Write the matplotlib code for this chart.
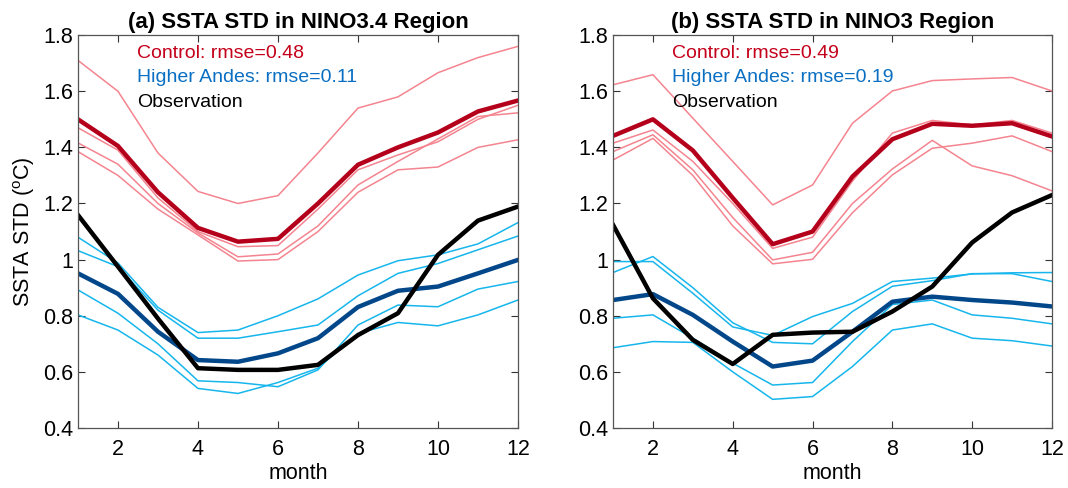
import numpy as np
import matplotlib
matplotlib.use("Agg")
import matplotlib.pyplot as plt

plt.rcParams['font.family'] = ['Liberation Sans', 'DejaVu Sans']
plt.rcParams['mathtext.fontset'] = 'custom'
plt.rcParams['mathtext.rm'] = 'Liberation Sans'

months = np.arange(1, 13)

# NINO3.4 region
ctl_mean_34 = [1.50, 1.405, 1.24, 1.113, 1.064, 1.074, 1.20, 1.338, 1.40, 1.453, 1.528, 1.567]
ctl_members_34 = [
    [1.71, 1.60, 1.38, 1.243, 1.20, 1.228, 1.38, 1.54, 1.58, 1.666, 1.72, 1.76],
    [1.47, 1.39, 1.22, 1.10, 1.046, 1.05, 1.18, 1.32, 1.373, 1.42, 1.50, 1.55],
    [1.416, 1.34, 1.20, 1.095, 1.01, 1.02, 1.12, 1.266, 1.35, 1.43, 1.51, 1.523],
    [1.385, 1.30, 1.18, 1.088, 0.995, 1.00, 1.10, 1.24, 1.32, 1.33, 1.40, 1.427],
]
ha_mean_34 = [0.951, 0.878, 0.743, 0.642, 0.636, 0.666, 0.72, 0.831, 0.889, 0.904, 0.951, 0.999]
ha_members_34 = [
    [1.08, 0.988, 0.83, 0.74, 0.749, 0.80, 0.86, 0.945, 0.996, 1.017, 1.056, 1.132],
    [1.032, 0.975, 0.82, 0.72, 0.72, 0.743, 0.767, 0.871, 0.951, 0.986, 1.035, 1.084],
    [0.892, 0.809, 0.70, 0.568, 0.562, 0.547, 0.607, 0.767, 0.838, 0.832, 0.895, 0.922],
    [0.803, 0.749, 0.66, 0.541, 0.523, 0.562, 0.613, 0.737, 0.776, 0.764, 0.803, 0.856],
]
obs_34 = [1.159, 0.975, 0.79, 0.613, 0.607, 0.607, 0.625, 0.731, 0.809, 1.017, 1.139, 1.189]

# NINO3 region
ctl_mean_3 = [1.441, 1.50, 1.389, 1.22, 1.055, 1.10, 1.296, 1.429, 1.484, 1.477, 1.486, 1.439]
ctl_members_3 = [
    [1.623, 1.659, 1.504, 1.35, 1.195, 1.266, 1.486, 1.601, 1.638, 1.644, 1.649, 1.601],
    [1.415, 1.462, 1.35, 1.20, 1.04, 1.08, 1.28, 1.451, 1.496, 1.48, 1.496, 1.451],
    [1.385, 1.445, 1.32, 1.15, 0.999, 1.026, 1.20, 1.323, 1.425, 1.334, 1.299, 1.245],
    [1.355, 1.432, 1.30, 1.12, 0.985, 1.001, 1.167, 1.302, 1.397, 1.415, 1.441, 1.385],
]
ha_mean_3 = [0.856, 0.877, 0.803, 0.708, 0.619, 0.64, 0.743, 0.85, 0.868, 0.856, 0.847, 0.833]
ha_members_3 = [
    [0.954, 1.011, 0.90, 0.775, 0.705, 0.70, 0.815, 0.905, 0.925, 0.95, 0.95, 0.922],
    [0.993, 0.993, 0.88, 0.76, 0.73, 0.797, 0.844, 0.922, 0.934, 0.949, 0.953, 0.954],
    [0.791, 0.803, 0.72, 0.631, 0.553, 0.562, 0.708, 0.84, 0.856, 0.803, 0.791, 0.771],
    [0.686, 0.708, 0.705, 0.60, 0.502, 0.512, 0.619, 0.749, 0.771, 0.72, 0.711, 0.692],
]
obs_3 = [1.124, 0.862, 0.714, 0.628, 0.732, 0.74, 0.743, 0.815, 0.904, 1.061, 1.168, 1.23]

panels = [
    ("(a) SSTA STD in NINO3.4 Region", ctl_mean_34, ctl_members_34, ha_mean_34, ha_members_34, obs_34, "0.48", "0.11"),
    ("(b) SSTA STD in NINO3 Region", ctl_mean_3, ctl_members_3, ha_mean_3, ha_members_3, obs_3, "0.49", "0.19"),
]

fig = plt.figure(figsize=(10.68, 4.88), dpi=100)
axes = [fig.add_axes([0.073, 0.123, 0.412, 0.805]),
        fig.add_axes([0.574, 0.123, 0.411, 0.805])]

for ax, (title, cm, cmem, hm, hmem, obs, r_ctl, r_ha) in zip(axes, panels):
    for m in cmem:
        ax.plot(months, m, color="#f4848f", lw=1.1)
    for m in hmem:
        ax.plot(months, m, color="#16b6ec", lw=1.1)
    ax.plot(months, cm, color="#b5001c", lw=3.2)
    ax.plot(months, hm, color="#02478a", lw=3.2)
    ax.plot(months, obs, color="black", lw=3.2)

    ax.set_xlim(1, 12)
    ax.set_ylim(0.4, 1.8)
    ax.set_xticks([2, 4, 6, 8, 10, 12])
    yt = np.arange(0.4, 1.81, 0.2)
    ax.set_yticks(yt)
    ax.set_yticklabels(["%g" % round(v, 1) for v in yt])
    ax.tick_params(direction="in", top=True, right=True, labelsize=15.5,
                   length=5, width=0.8, color="#333333")
    ax.tick_params(axis="x", pad=8)
    for s in ax.spines.values():
        s.set_color("#555555")
        s.set_linewidth(0.9)
    ax.set_xlabel("month", fontsize=15.5, labelpad=2)
    ax.set_title(title, fontsize=16, fontweight="bold", pad=5)

    ax.text(0.135, 0.942, "Control: rmse=" + r_ctl, transform=ax.transAxes,
            color="#c4001a", fontsize=14, va="baseline")
    ax.text(0.135, 0.880, "Higher Andes: rmse=" + r_ha, transform=ax.transAxes,
            color="#0a6fc2", fontsize=14, va="baseline")
    ax.text(0.135, 0.818, "Observation", transform=ax.transAxes,
            color="black", fontsize=14, va="baseline")

axes[0].set_ylabel("SSTA STD ($^\\mathrm{o}$C)", fontsize=15.5, labelpad=4)

fig.savefig("out.png", dpi=100)
